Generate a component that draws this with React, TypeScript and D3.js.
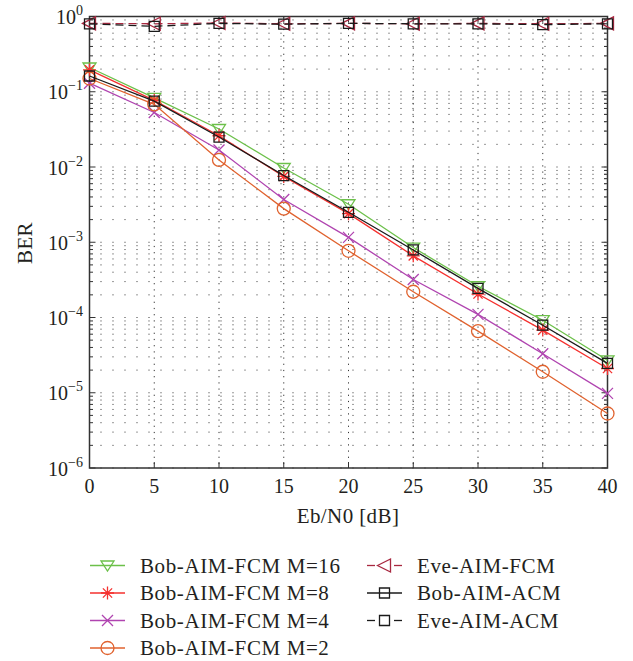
import React from "react";
import * as d3 from "d3";

const snr = [0, 5, 10, 15, 20, 25, 30, 35, 40];
const bobM16 = [0.21, 0.083, 0.032, 0.0097, 0.0032, 0.00085, 0.00026, 0.000092, 0.000027];
const bobM8 = [0.195, 0.077, 0.026, 0.0075, 0.0024, 0.00066, 0.000205, 0.000068, 0.000021];
const bobM4 = [0.13, 0.053, 0.0168, 0.0037, 0.00116, 0.00032, 0.00011, 0.000033, 0.0000098];
const bobM2 = [0.15, 0.068, 0.0124, 0.0028, 0.00077, 0.00022, 0.000066, 0.000019, 0.0000053];
const bobACM = [0.162, 0.075, 0.025, 0.0077, 0.0025, 0.00079, 0.000244, 0.000079, 0.0000246];
const eveFCM = [0.81, 0.8, 0.82, 0.8, 0.81, 0.8, 0.81, 0.8, 0.81];
const eveACM = [0.8, 0.74, 0.81, 0.79, 0.81, 0.8, 0.8, 0.78, 0.8];

const xTicks = [0, 5, 10, 15, 20, 25, 30, 35, 40];
const yExponents = [0, -1, -2, -3, -4, -5, -6];

type Marker = "triDown" | "star" | "x" | "circle" | "square" | "triLeft";

const seriesDefs: { name: string; values: number[]; color: string; marker: Marker; dashed: boolean }[] = [
  { name: "Bob-AIM-FCM M=16", values: bobM16, color: "#6cc04a", marker: "triDown", dashed: false },
  { name: "Bob-AIM-FCM M=8", values: bobM8, color: "#f5302e", marker: "star", dashed: false },
  { name: "Bob-AIM-FCM M=4", values: bobM4, color: "#b044b0", marker: "x", dashed: false },
  { name: "Bob-AIM-FCM M=2", values: bobM2, color: "#e0622e", marker: "circle", dashed: false },
  { name: "Eve-AIM-FCM", values: eveFCM, color: "#a82840", marker: "triLeft", dashed: true },
  { name: "Bob-AIM-ACM", values: bobACM, color: "#1a1a1a", marker: "square", dashed: false },
  { name: "Eve-AIM-ACM", values: eveACM, color: "#1a1a1a", marker: "square", dashed: true },
];

function markerPath(m: Marker): string {
  switch (m) {
    case "triDown":
      return "M-6.5,-4.5L6.5,-4.5L0,5.5Z";
    case "star":
      return "M0,-6.5L0,6.5M-6.5,0L6.5,0M-4.6,-4.6L4.6,4.6M-4.6,4.6L4.6,-4.6";
    case "x":
      return "M-5.5,-5.5L5.5,5.5M-5.5,5.5L5.5,-5.5";
    case "circle":
      return "M6.5,0A6.5,6.5 0 1,1 -6.5,0A6.5,6.5 0 1,1 6.5,0Z";
    case "square":
      return "M-5,-5L5,-5L5,5L-5,5Z";
    case "triLeft":
      return "M-7,0L6,-6.5L6,6.5Z";
  }
}

const FONT = "'Liberation Serif', 'Times New Roman', serif";
const TEXT = "#231f20";

export default function App() {
  const W = 633;
  const H = 661;
  const left = 89.5;
  const right = 607.5;
  const top = 16.5;
  const bottom = 468;

  const x = d3.scaleLinear().domain([0, 40]).range([left, right]);
  const y = d3.scaleLog().domain([1e-6, 1]).range([bottom, top]);

  const line = d3
    .line<number>()
    .x((_, i) => x(snr[i]))
    .y((d) => y(d));

  const minorVals: number[] = [];
  for (let e = -6; e < 0; e++) {
    for (let k = 1; k <= 9; k++) minorVals.push(k * Math.pow(10, e));
  }
  minorVals.push(1);

  const legendRows = [565.5, 593, 620.5, 648];
  const legendItems = seriesDefs.map((s, i) => {
    const col = i < 4 ? 0 : 1;
    const row = i < 4 ? i : i - 4;
    return { s, x0: col === 0 ? 90 : 367, tx: col === 0 ? 140 : 417, y: legendRows[row] };
  });

  return (
    <svg width={W} height={H} style={{ position: "absolute", left: 0, top: 0 }} fontFamily={FONT}>
      <rect x={0} y={0} width={W} height={H} fill="#fff" />
      {/* grid */}
      <g stroke="#333" strokeWidth={1}>
        {minorVals.map((v, i) => (
          <line key={"h" + i} x1={left} x2={right} y1={y(v)} y2={y(v)} strokeDasharray="1 11" strokeDashoffset={-11} />
        ))}
        {xTicks.slice(1, -1).map((t) => (
          <line key={"v" + t} x1={x(t)} x2={x(t)} y1={top} y2={bottom} strokeDasharray="1.2 5" />
        ))}
      </g>
      {/* ticks */}
      <g stroke="#333" strokeWidth={1}>
        {minorVals.map((v, i) => {
          const major = Math.abs(Math.log10(v) - Math.round(Math.log10(v))) < 1e-9;
          const len = major ? 6 : 3.5;
          return (
            <g key={"t" + i}>
              <line x1={left} x2={left + len} y1={y(v)} y2={y(v)} />
              <line x1={right} x2={right - len} y1={y(v)} y2={y(v)} />
            </g>
          );
        })}
        {xTicks.map((t) => (
          <g key={"xt" + t}>
            <line x1={x(t)} x2={x(t)} y1={bottom} y2={bottom - 6} />
            <line x1={x(t)} x2={x(t)} y1={top} y2={top + 6} />
          </g>
        ))}
      </g>
      {/* frame */}
      <rect x={left} y={top} width={right - left} height={bottom - top} fill="none" stroke="#333" strokeWidth={1.5} />
      {/* series */}
      {seriesDefs.map((s) => (
        <g key={s.name}>
          <path
            d={line(s.values) || ""}
            fill="none"
            stroke={s.color}
            strokeWidth={1.3}
            strokeDasharray={s.dashed ? "8 5" : undefined}
          />
          {s.values.map((v, i) => (
            <path
              key={i}
              d={markerPath(s.marker)}
              transform={`translate(${x(snr[i])},${y(v)})`}
              fill="none"
              stroke={s.color}
              strokeWidth={1.3}
            />
          ))}
        </g>
      ))}
      {/* y tick labels */}
      {yExponents.map((e) => (
        <text key={"yl" + e} x={83} y={y(Math.pow(10, e)) + 7.5} textAnchor="end" fontSize={20} fill={TEXT}>
          10
          <tspan dy={-9} fontSize={14}>
            {e === 0 ? "0" : "\u2212" + Math.abs(e)}
          </tspan>
        </text>
      ))}
      {/* x tick labels */}
      {xTicks.map((t) => (
        <text key={"xl" + t} x={x(t)} y={493} textAnchor="middle" fontSize={20} fill={TEXT}>
          {t}
        </text>
      ))}
      <text x={348} y={523} textAnchor="middle" fontSize={21} letterSpacing={0.4} fill={TEXT}>
        Eb/N0 [dB]
      </text>
      <text transform={`translate(32,243) rotate(-90)`} textAnchor="middle" fontSize={21} letterSpacing={0.4} fill={TEXT}>
        BER
      </text>
      {/* legend */}
      {legendItems.map(({ s, x0, tx, y: ly }) => (
        <g key={"lg" + s.name}>
          {s.dashed ? (
            <>
              <line x1={x0} x2={x0 + 8} y1={ly} y2={ly} stroke={s.color} strokeWidth={1.3} />
              <line x1={x0 + 27} x2={x0 + 35} y1={ly} y2={ly} stroke={s.color} strokeWidth={1.3} />
            </>
          ) : (
            <line x1={x0} x2={x0 + 35} y1={ly} y2={ly} stroke={s.color} strokeWidth={1.3} />
          )}
          <path
            d={markerPath(s.marker)}
            transform={`translate(${x0 + 17.5},${ly})`}
            fill="none"
            stroke={s.color}
            strokeWidth={1.3}
          />
          <text x={tx} y={ly + 7} fontSize={21} letterSpacing={0.6} fill={TEXT}>
            {s.name}
          </text>
        </g>
      ))}
    </svg>
  );
}
